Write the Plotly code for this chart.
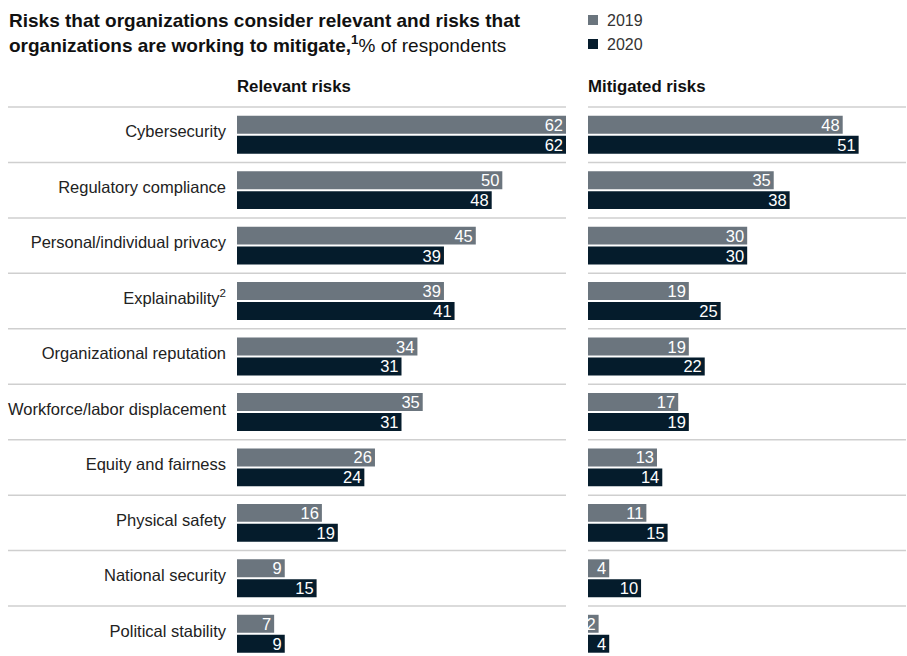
import plotly.graph_objects as go

W, H = 907, 656

categories = ["Cybersecurity", "Regulatory compliance", "Personal/individual privacy",
              "Explainability<sup>2</sup>", "Organizational reputation",
              "Workforce/labor displacement", "Equity and fairness", "Physical safety",
              "National security", "Political stability"]
relevant_2019 = [62, 50, 45, 39, 34, 35, 26, 16, 9, 7]
relevant_2020 = [62, 48, 39, 41, 31, 31, 24, 19, 15, 9]
mitigated_2019 = [48, 35, 30, 19, 19, 17, 13, 11, 4, 2]
mitigated_2020 = [51, 38, 30, 25, 22, 19, 14, 15, 10, 4]
series_names = ["2019", "2020"]

C19 = "#6b757e"
C20 = "#051c2c"
SEP = "#cfcfcf"
FONT = "Liberation Sans, Arial, sans-serif"

idx = list(range(len(categories)))
px_per_unit = (566 - 237) / 62.0

fig = go.Figure()

def add_bar(vals, name, color, xa, ya):
    fig.add_trace(go.Bar(
        y=idx, x=vals, orientation="h", name=name,
        marker=dict(color=color, line=dict(width=0)),
        text=[str(v) for v in vals], textposition="inside", textangle=0,
        insidetextanchor="end", constraintext="none",
        textfont=dict(color="white", size=16.5, family=FONT),
        xaxis=xa, yaxis=ya, showlegend=False, hoverinfo="skip",
        cliponaxis=False,
    ))

add_bar(relevant_2019, series_names[0], C19, "x", "y")
add_bar(relevant_2020, series_names[1], C20, "x", "y")
add_bar(mitigated_2019, series_names[0], C19, "x2", "y2")
add_bar(mitigated_2020, series_names[1], C20, "x2", "y2")

yrange = [(H - 134.7) / 55.45, -134.7 / 55.45]

fig.update_layout(
    width=W, height=H,
    margin=dict(l=0, r=0, t=0, b=0),
    paper_bgcolor="white", plot_bgcolor="white",
    barmode="group", bargap=0.28, bargroupgap=0.1,
    showlegend=False,
    font=dict(family=FONT, color="#222"),
    xaxis=dict(domain=[237 / W, 566 / W], range=[0, 62], visible=False, anchor="y"),
    xaxis2=dict(domain=[588 / W, 1], range=[0, (W - 588) / px_per_unit], visible=False, anchor="y2"),
    yaxis=dict(domain=[0, 1], range=yrange, anchor="x", tickvals=idx, ticktext=categories,
               showgrid=False, zeroline=False, showline=False, ticks="",
               ticklabelstandoff=10, ticklabelshift=3,
               tickfont=dict(size=16.5, color="#222", family=FONT)),
    yaxis2=dict(domain=[0, 1], range=yrange, anchor="x2", visible=False, matches="y"),
)

# separators
shapes = []
for i in idx:
    shapes.append(dict(type="line", xref="paper", yref="y", x0=8 / W, x1=566 / W,
                       y0=i - 0.5, y1=i - 0.5, line=dict(color=SEP, width=1.5)))
    shapes.append(dict(type="line", xref="paper", yref="y", x0=588 / W, x1=906 / W,
                       y0=i - 0.5, y1=i - 0.5, line=dict(color=SEP, width=1.5)))

# legend squares
for k, (c, yc) in enumerate([(C19, 20), (C20, 44)]):
    shapes.append(dict(type="rect", xref="paper", yref="paper",
                       x0=588 / W, x1=598 / W, y0=1 - (yc + 5) / H, y1=1 - (yc - 5) / H,
                       fillcolor=c, line=dict(width=0)))
fig.update_layout(shapes=shapes)

ann = []
ann.append(dict(xref="paper", yref="paper", x=7 / W, y=1 - 8 / H, xanchor="left", yanchor="top",
                align="left", showarrow=False,
                text="<b>Risks that organizations consider relevant and risks that</b><br>"
                     "<b>organizations are working to mitigate,<sup>1</sup></b>% of respondents",
                font=dict(size=19, color="#111", family=FONT)))
for name, yc in zip(series_names, [20, 44]):
    ann.append(dict(xref="paper", yref="paper", x=605 / W, y=1 - yc / H, xanchor="left",
                    yanchor="middle", showarrow=False, text=name,
                    font=dict(size=16, color="#333", family=FONT)))
ann.append(dict(xref="paper", yref="paper", x=235 / W, y=1 - 87 / H, xanchor="left",
                yanchor="middle", showarrow=False, text="<b>Relevant risks</b>",
                font=dict(size=16.8, color="#111", family=FONT)))
ann.append(dict(xref="paper", yref="paper", x=586 / W, y=1 - 87 / H, xanchor="left",
                yanchor="middle", showarrow=False, text="<b>Mitigated risks</b>",
                font=dict(size=16.8, color="#111", family=FONT)))
fig.update_layout(annotations=ann)

fig.write_html("out.html")
